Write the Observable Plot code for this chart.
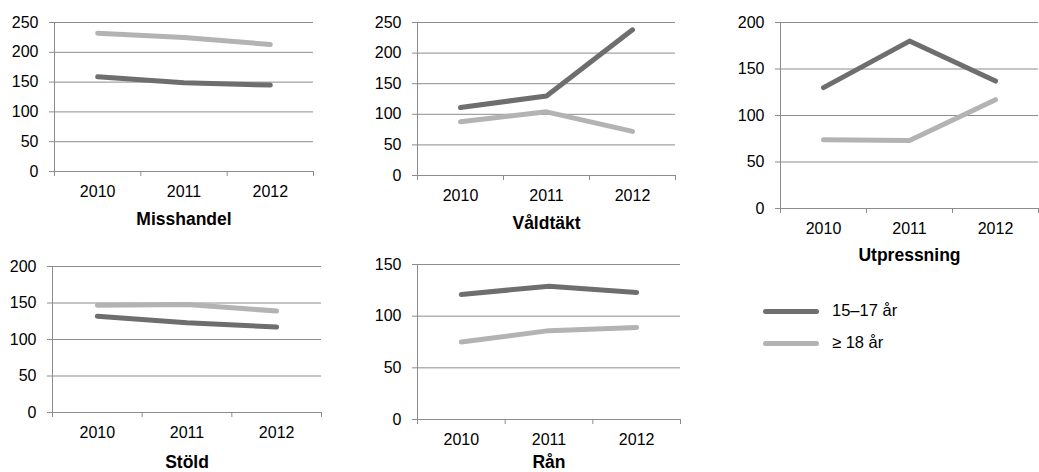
<!DOCTYPE html>
<html>
<head>
<meta charset="utf-8">
<script src="https://cdn.jsdelivr.net/npm/d3@7"></script>
<script src="https://cdn.jsdelivr.net/npm/@observablehq/plot@0.6"></script>
<style>
  html, body { margin: 0; padding: 0; background: #fff; }
  #root { position: relative; width: 1039px; height: 472px; overflow: hidden;
          font-family: "Liberation Sans", Arial, Helvetica, sans-serif; }
  .panel { position: absolute; }
  .legend { position: absolute; left: 763px; top: 296px; font-size: 16.5px; color: #000; }
  .legend .row { position: relative; height: 32px; }
  .legend .sw { position: absolute; left: 0; top: 13px; width: 56px; height: 5px; border-radius: 3px; }
  .legend .lbl { position: absolute; left: 69px; top: 5px; white-space: nowrap; }
</style>
</head>
<body>
<div id="root"></div>
<script>
// ---- data ----
const years = [2010, 2011, 2012];
const seriesNames = ["15–17 år", "≥ 18 år"];
const crimes = ["Misshandel", "Våldtäkt", "Utpressning", "Stöld", "Rån"];

const misshandel15 = [159, 149, 145];
const misshandel18 = [232, 225, 213];
const valdtakt15 = [111, 130, 238];
const valdtakt18 = [88, 104, 72];
const utpressning15 = [130, 180, 137];
const utpressning18 = [74, 73, 117];
const stold15 = [132, 123, 117];
const stold18 = [147, 148, 139];
const ran15 = [121, 129, 123];
const ran18 = [75, 86, 89];

const yTicks250 = [0, 50, 100, 150, 200, 250];
const yTicks200 = [0, 50, 100, 150, 200];
const yTicks150 = [0, 50, 100, 150];

// ---- styling / layout ----
const colors = ["#6e6e6e", "#b3b3b3"];
const axisGray = "#8c8c8c";
const font = '"Liberation Sans", Arial, Helvetica, sans-serif';

const panels = [
  {title: crimes[0], s15: misshandel15, s18: misshandel18, ticks: yTicks250,
   left: 0, top: 0, width: 320, height: 240, ml: 54, mr: 7, mt: 22, mb: 69, titleDy: 48},
  {title: crimes[1], s15: valdtakt15, s18: valdtakt18, ticks: yTicks250,
   left: 340, top: 0, width: 340, height: 240, ml: 77, mr: 5, mt: 22, mb: 65, titleDy: 48},
  {title: crimes[2], s15: utpressning15, s18: utpressning18, ticks: yTicks200,
   left: 700, top: 0, width: 339, height: 270, ml: 80, mr: 1, mt: 22, mb: 62, titleDy: 47},
  {title: crimes[3], s15: stold15, s18: stold18, ticks: yTicks200,
   left: 0, top: 240, width: 330, height: 232, ml: 52, mr: 9, mt: 26, mb: 60, titleDy: 50},
  {title: crimes[4], s15: ran15, s18: ran18, ticks: yTicks150,
   left: 340, top: 240, width: 345, height: 232, ml: 77, mr: 5, mt: 24, mb: 53, titleDy: 43}
];

const boundaries = [years[0] - 0.5, ...years.map(y => y + 0.5)];
const root = document.getElementById("root");

for (const p of panels) {
  const rows = [];
  years.forEach((yr, i) => {
    rows.push({year: yr, value: p.s15[i], series: seriesNames[0]});
    rows.push({year: yr, value: p.s18[i], series: seriesNames[1]});
  });
  const chart = Plot.plot({
    width: p.width,
    height: p.height,
    marginLeft: p.ml,
    marginRight: p.mr,
    marginTop: p.mt,
    marginBottom: p.mb,
    style: {fontFamily: font, fontSize: "16px", color: "#000", background: "transparent", overflow: "visible"},
    x: {domain: [boundaries[0], boundaries[boundaries.length - 1]]},
    y: {domain: [p.ticks[0], p.ticks[p.ticks.length - 1]]},
    color: {domain: seriesNames, range: colors},
    marks: [
      Plot.ruleY(p.ticks, {stroke: axisGray, strokeWidth: 1}),
      Plot.ruleX([boundaries[0]], {stroke: axisGray, strokeWidth: 1}),
      Plot.axisY({ticks: p.ticks, tickSize: 5, tickPadding: 11, stroke: axisGray, fill: "#000", label: null}),
      Plot.axisX({ticks: boundaries, tickSize: 5, tickFormat: () => "", stroke: axisGray, label: null}),
      Plot.axisX({ticks: years, tickSize: 0, tickPadding: 14, tickFormat: d => String(d), fill: "#000", label: null}),
      Plot.line(rows, {x: "year", y: "value", z: "series", stroke: "series",
                       strokeWidth: 5, strokeLinecap: "round", strokeLinejoin: "round"}),
      Plot.text([p.title], {frameAnchor: "bottom", lineAnchor: "middle", dy: p.titleDy,
                            fontWeight: "bold", fontSize: 17.5, fill: "#000"})
    ]
  });
  const wrap = document.createElement("div");
  wrap.className = "panel";
  wrap.style.left = p.left + "px";
  wrap.style.top = p.top + "px";
  wrap.appendChild(chart);
  root.appendChild(wrap);
}

// legend
const legend = document.createElement("div");
legend.className = "legend";
seriesNames.forEach((name, i) => {
  const row = document.createElement("div");
  row.className = "row";
  const sw = document.createElement("div");
  sw.className = "sw";
  sw.style.background = colors[i];
  const lbl = document.createElement("div");
  lbl.className = "lbl";
  lbl.textContent = name;
  row.appendChild(sw);
  row.appendChild(lbl);
  legend.appendChild(row);
});
root.appendChild(legend);
</script>
</body>
</html>
